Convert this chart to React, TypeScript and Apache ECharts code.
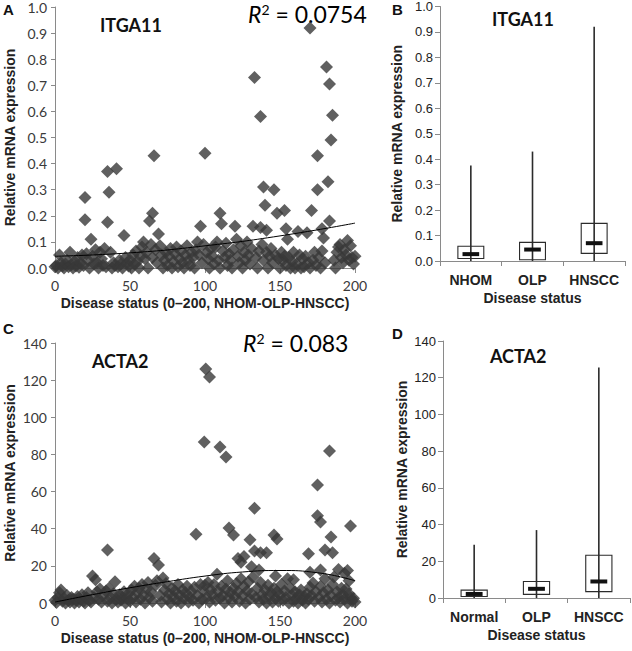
import React, { useEffect, useRef } from "react";
import * as echarts from "echarts";

// ---------- Panel A: ITGA11 vs disease status ----------
const scatterITGA11: [number, number][] = [
  [170, 0.92], [133, 0.73], [137, 0.58], [181, 0.77], [183, 0.705], [185, 0.585], [184, 0.49], [175, 0.43],
  [66, 0.43], [100, 0.44], [35, 0.37], [41, 0.38], [36, 0.29], [20, 0.27], [182, 0.33], [175, 0.3],
  [139, 0.31], [146, 0.3], [140, 0.24], [171, 0.22], [148, 0.21], [153, 0.22], [65, 0.21], [63, 0.18],
  [20, 0.185], [35, 0.175], [110, 0.21], [111, 0.17], [97, 0.16], [120, 0.16], [183, 0.18], [69, 0.13],
  [46, 0.125], [24, 0.11], [132, 0.16], [137, 0.155], [141, 0.145], [162, 0.14], [168, 0.135], [178, 0.15],
  [154, 0.15], [179, 0.115], [155, 0.11], [195, 0.105], [190, 0.09],
  [0, 0.005], [1, 0.01], [2, 0.0], [3, 0.05], [4, 0.02], [5, 0.008], [6, 0.0], [7, 0.015], [8, 0.03], [9, 0.005],
  [10, 0.06], [11, 0.012], [12, 0.0], [13, 0.025], [14, 0.008], [15, 0.04], [16, 0.003], [17, 0.018], [18, 0.05],
  [19, 0.01], [21, 0.055], [22, 0.03], [23, 0.0], [25, 0.045], [26, 0.015], [27, 0.07], [28, 0.02], [29, 0.0],
  [30, 0.06], [31, 0.035], [32, 0.01], [33, 0.075], [34, 0.005], [37, 0.06], [38, 0.0], [39, 0.02], [40, 0.01],
  [42, 0.005], [43, 0.03], [44, 0.015], [45, 0.0], [47, 0.04], [48, 0.02], [49, 0.008],
  [50, 0.03], [51, 0.0], [52, 0.05], [53, 0.015], [54, 0.065], [55, 0.025], [56, 0.0], [57, 0.045], [58, 0.08],
  [59, 0.1], [60, 0.035], [61, 0.06], [62, 0.0], [64, 0.09], [65, 0.04], [67, 0.07], [68, 0.02], [70, 0.085],
  [71, 0.05], [72, 0.0], [73, 0.03], [74, 0.06], [75, 0.01], [76, 0.045], [77, 0.075], [78, 0.0], [79, 0.025],
  [80, 0.055], [81, 0.08], [82, 0.005], [83, 0.035], [84, 0.065], [85, 0.02], [86, 0.0], [87, 0.05], [88, 0.085],
  [89, 0.03], [90, 0.01], [91, 0.06], [92, 0.04], [93, 0.0], [94, 0.07], [95, 0.1], [96, 0.05], [98, 0.02], [99, 0.09],
  [101, 0.06], [102, 0.035], [103, 0.0], [104, 0.075], [105, 0.045], [106, 0.015], [107, 0.08], [108, 0.1],
  [109, 0.03], [110, 0.0], [112, 0.065], [113, 0.04], [114, 0.095], [115, 0.01], [116, 0.055], [117, 0.03],
  [118, 0.0], [119, 0.07], [121, 0.11], [122, 0.045], [123, 0.02], [124, 0.085], [125, 0.0], [126, 0.06],
  [127, 0.03], [128, 0.1], [129, 0.05], [130, 0.015], [131, 0.075], [134, 0.04], [135, 0.0], [136, 0.065],
  [138, 0.09], [139, 0.03], [141, 0.06], [142, 0.0], [143, 0.045], [144, 0.075], [145, 0.02], [147, 0.05],
  [149, 0.035], [150, 0.0],
  [151, 0.06], [152, 0.03], [153, 0.045], [154, 0.01], [156, 0.04], [157, 0.0], [158, 0.025], [159, 0.06],
  [160, 0.0], [161, 0.015], [163, 0.05], [164, 0.0], [165, 0.035], [166, 0.005], [167, 0.045], [169, 0.02],
  [170, 0.0], [172, 0.03], [173, 0.06], [174, 0.01], [176, 0.04], [177, 0.0], [178, 0.065], [180, 0.02],
  [186, 0.03], [187, 0.0], [188, 0.06], [189, 0.08], [191, 0.04], [192, 0.02], [193, 0.07], [194, 0.05],
  [196, 0.03], [197, 0.085], [198, 0.04], [199, 0.015], [200, 0.045],
];
const trendITGA11: [number, number][] = [[0, 0.045], [50, 0.058], [100, 0.085], [150, 0.123], [200, 0.172]];
const r2ITGA11 = "0.0754";

// ---------- Panel B: ITGA11 by group ----------
const groupsITGA11 = ["NHOM", "OLP", "HNSCC"];
const minITGA11 = [0, 0, 0];
const q1ITGA11 = [0.01, 0.005, 0.03];
const medianITGA11 = [0.027, 0.045, 0.07];
const q3ITGA11 = [0.058, 0.073, 0.148];
const maxITGA11 = [0.375, 0.43, 0.92];

// ---------- Panel C: ACTA2 vs disease status ----------
const scatterACTA2: [number, number][] = [
  [100.5, 126], [103, 121.7], [99.5, 86.7], [110, 84], [114, 78.6], [183, 81.8], [175, 63.5], [133, 51],
  [175, 47], [177, 43.6], [197, 41.5], [94, 37], [116, 40.4], [119, 36.6], [146, 36.6], [148, 34.4],
  [130, 34], [184, 35.5], [35, 28.5], [133, 28], [137, 27], [141, 27], [180, 28.5], [185, 27], [169, 26.5],
  [66, 24], [69, 20.5], [122, 24], [124, 22], [195, 17.5], [25, 14.5], [27, 12.5], [40, 11.5], [131, 19.5],
  [136, 17.8], [72, 13.5], [108, 15.5], [147, 14.5], [159, 12.5], [172, 10.8], [177, 17.8], [180, 13],
  [186, 14], [193, 16], [196, 12], [189, 18], [170, 16.5], [155, 13], [126, 25],
  [0, 1.5], [1, 0.3], [2, 3], [3, 5.5], [4, 7], [5, 1], [6, 2.5], [7, 0], [8, 4], [9, 1.5], [10, 0.5], [11, 3],
  [12, 2], [13, 0], [14, 1.5], [15, 3.5], [16, 0.5], [17, 2], [18, 4.5], [19, 1], [20, 0], [21, 3], [22, 5.5],
  [23, 1.5], [24, 0.5], [26, 3], [28, 6], [29, 2], [30, 7.5], [31, 0.5], [32, 4], [34, 6.5], [35, 1], [36, 8],
  [37, 3], [38, 0], [39, 5], [41, 2], [42, 0.5], [43, 4.5], [44, 1.5], [45, 3], [46, 6], [47, 0], [48, 2.5],
  [49, 5], [50, 1],
  [51, 7], [52, 3], [53, 9], [54, 0.5], [55, 5.5], [56, 8], [57, 2], [58, 10], [59, 4], [60, 0], [61, 7.5],
  [62, 11], [63, 3], [64, 6], [65, 1], [67, 9.5], [68, 12], [70, 4], [71, 0.5], [73, 7], [74, 10.5], [75, 2],
  [76, 5], [77, 0], [78, 8], [79, 3.5], [80, 6.5], [81, 1], [82, 10], [83, 4], [84, 0], [85, 7], [86, 2.5],
  [87, 5.5], [88, 9], [89, 0.5], [90, 3], [91, 6], [92, 1.5], [93, 8.5], [95, 4], [96, 0], [97, 10], [98, 2],
  [99, 6.5], [100, 9.5],
  [101, 3], [102, 11], [103, 0.5], [104, 7], [105, 4.5], [106, 10], [107, 1.5], [109, 6], [110, 2.5], [111, 9],
  [112, 4], [113, 0], [114, 7.5], [115, 12], [116, 3], [117, 5.5], [118, 0.5], [119, 8], [120, 3.5], [121, 10.5],
  [122, 6], [123, 1], [124, 13], [125, 4], [126, 9], [127, 0], [128, 6.5], [129, 11.5], [130, 2], [131, 5],
  [132, 14], [134, 3], [135, 8], [136, 0.5], [137, 11], [138, 4.5], [139, 2], [140, 7], [141, 0], [142, 9.5],
  [143, 3.5], [144, 5.5], [145, 0.5], [146, 8], [147, 2.5], [148, 6], [149, 1], [150, 4.5],
  [151, 10], [152, 1.5], [153, 6.5], [154, 3], [156, 0], [157, 8], [158, 4], [159, 1], [160, 6], [161, 2.5],
  [162, 0], [163, 4.5], [164, 7], [165, 1.5], [166, 3.5], [167, 0], [168, 5], [169, 2], [170, 8.5], [171, 4],
  [173, 1], [174, 6], [176, 3], [177, 9], [178, 0.5], [179, 5.5], [181, 2], [182, 7], [183, 0], [184, 4],
  [185, 10], [187, 1.5], [188, 6], [189, 3], [190, 0.5], [191, 8], [192, 4.5], [193, 2], [194, 7.5], [195, 0],
  [196, 5], [197, 3], [198, 1], [199, 2.5], [200, 0.5],
];
const trendACTA2: [number, number][] = [
  [0, 0.5], [25, 4.5], [50, 8.2], [75, 11.5], [100, 14.5], [125, 16.7], [150, 17.5], [175, 16.3], [200, 12],
];
const r2ACTA2 = "0.083";

// ---------- Panel D: ACTA2 by group ----------
const groupsACTA2 = ["Normal", "OLP", "HNSCC"];
const minACTA2 = [0, 0, 0];
const q1ACTA2 = [0.8, 2, 3.5];
const medianACTA2 = [2.2, 5, 9];
const q3ACTA2 = [4.3, 9, 23.3];
const maxACTA2 = [29, 37, 125.5];

const ARIAL = "Liberation Sans, Arial, sans-serif";
const CAL = "Lato, Carlito, Calibri, sans-serif";
const AXIS_GRAY = "#8a8a8a";
const DARK = "#383838";

function boxData(mins: number[], q1: number[], med: number[], q3: number[], max: number[]) {
  return mins.map((m, i) => [i, m, q1[i], med[i], q3[i], max[i]]);
}

const renderBox = (_params: any, api: any) => {
  const i = api.value(0);
  const pMin = api.coord([i, api.value(1)]);
  const pQ1 = api.coord([i, api.value(2)]);
  const pMed = api.coord([i, api.value(3)]);
  const pQ3 = api.coord([i, api.value(4)]);
  const pMax = api.coord([i, api.value(5)]);
  const bw = api.size([1, 0])[0];
  const w = bw * 0.42;
  const mw = bw * 0.27;
  return {
    type: "group",
    children: [
      {
        type: "line",
        shape: { x1: pMin[0], y1: pMin[1], x2: pMax[0], y2: pMax[1] },
        style: { stroke: "#2b2b2b", lineWidth: 1.6 },
      },
      {
        type: "rect",
        shape: { x: pQ3[0] - w / 2, y: pQ3[1], width: w, height: pQ1[1] - pQ3[1] },
        style: { fill: "none", stroke: "#2b2b2b", lineWidth: 1.1 },
      },
      {
        type: "rect",
        shape: { x: pMed[0] - mw / 2, y: pMed[1] - 2, width: mw, height: 4 },
        style: { fill: "#111" },
      },
    ],
  };
};

function scatterXAxis(gridIndex: number) {
  return {
    type: "value",
    gridIndex,
    min: 0,
    max: 200,
    interval: 50,
    axisLine: { show: true, lineStyle: { color: AXIS_GRAY, width: 1 } },
    axisTick: { show: true, length: 5, lineStyle: { color: AXIS_GRAY } },
    splitLine: { show: false },
    axisLabel: { fontFamily: CAL, fontSize: 14, color: "#3a3a3a", margin: 10 },
    name: "Disease status (0\u2013200, NHOM-OLP-HNSCC)",
    nameLocation: "middle",
    nameGap: 28,
    nameTextStyle: { fontFamily: ARIAL, fontWeight: "bold", fontSize: 14, color: "#222" },
  };
}

function scatterYAxis(gridIndex: number, max: number, interval: number, digits: number) {
  return {
    type: "value",
    gridIndex,
    min: 0,
    max,
    interval,
    axisLine: { show: true, lineStyle: { color: AXIS_GRAY, width: 1 } },
    axisTick: { show: true, length: 4, lineStyle: { color: AXIS_GRAY } },
    splitLine: { show: false },
    axisLabel: {
      fontFamily: CAL,
      fontSize: 14,
      color: "#3a3a3a",
      margin: 8,
      formatter: (v: number) => v.toFixed(digits),
    },
    name: "Relative mRNA expression",
    nameLocation: "middle",
    nameRotate: 90,
    nameGap: 38,
    nameTextStyle: { fontFamily: ARIAL, fontWeight: "bold", fontSize: 14, color: "#222" },
  };
}

function boxXAxis(gridIndex: number, cats: string[]) {
  return {
    type: "category",
    gridIndex,
    data: cats,
    boundaryGap: true,
    axisLine: { show: true, lineStyle: { color: AXIS_GRAY, width: 1 } },
    axisTick: { show: true, length: 5, interval: 0, lineStyle: { color: AXIS_GRAY } },
    axisLabel: { interval: 0, fontFamily: ARIAL, fontWeight: "bold", fontSize: 14, color: "#222", margin: 12 },
    name: "Disease status",
    nameLocation: "middle",
    nameGap: 30,
    nameTextStyle: { fontFamily: ARIAL, fontWeight: "bold", fontSize: 14, color: "#222" },
  };
}

function boxYAxis(gridIndex: number, max: number, interval: number, digits: number, gap: number) {
  return {
    type: "value",
    gridIndex,
    min: 0,
    max,
    interval,
    axisLine: { show: true, lineStyle: { color: AXIS_GRAY, width: 1 } },
    axisTick: { show: true, length: 5, lineStyle: { color: AXIS_GRAY } },
    splitLine: { show: false },
    axisLabel: {
      fontFamily: ARIAL,
      fontSize: 13,
      color: "#222",
      margin: 7,
      formatter: (v: number) => v.toFixed(digits),
    },
    name: "Relative mRNA expression",
    nameLocation: "middle",
    nameRotate: 90,
    nameGap: gap,
    nameTextStyle: { fontFamily: ARIAL, fontWeight: "bold", fontSize: 14, color: "#222" },
  };
}

function r2Text(left: number, top: number, value: string) {
  return {
    type: "text",
    left,
    top,
    style: {
      text: `{i|R}{s|2}{n| = ${value}}`,
      rich: {
        i: { fontFamily: CAL, fontStyle: "italic", fontSize: 23, color: "#111" },
        s: { fontFamily: CAL, fontSize: 14, color: "#111", verticalAlign: "top", padding: [0, 0, 10, 0] },
        n: { fontFamily: CAL, fontSize: 23, color: "#111" },
      },
    },
  };
}

function label(left: number, top: number, text: string, size: number, font: string) {
  return {
    type: "text",
    left,
    top,
    style: { text, fontFamily: font, fontWeight: "bold", fontSize: size, fill: "#111" },
  };
}

export default function App() {
  const ref = useRef<HTMLDivElement>(null);

  useEffect(() => {
    if (!ref.current) return;
    const chart = echarts.init(ref.current, undefined, { renderer: "svg" });
    const option: any = {
      animation: false,
      backgroundColor: "#ffffff",
      grid: [
        { left: 55, top: 6, width: 300, height: 262 },
        { left: 440, top: 5, width: 185, height: 256 },
        { left: 55, top: 343, width: 300, height: 260 },
        { left: 443, top: 341, width: 187, height: 257 },
      ],
      xAxis: [
        scatterXAxis(0),
        boxXAxis(1, groupsITGA11),
        scatterXAxis(2),
        boxXAxis(3, groupsACTA2),
      ],
      yAxis: [
        scatterYAxis(0, 1, 0.1, 1),
        boxYAxis(1, 1, 0.1, 1, 36),
        scatterYAxis(2, 140, 20, 0),
        boxYAxis(3, 140, 20, 0, 34),
      ],
      series: [
        {
          type: "scatter",
          xAxisIndex: 0,
          yAxisIndex: 0,
          data: scatterITGA11,
          symbol: "diamond",
          symbolSize: 13,
          itemStyle: { color: DARK },
          z: 2,
        },
        {
          type: "line",
          xAxisIndex: 0,
          yAxisIndex: 0,
          data: trendITGA11,
          smooth: true,
          showSymbol: false,
          symbol: "none",
          lineStyle: { color: "#000", width: 1 },
          z: 3,
        },
        {
          type: "custom",
          xAxisIndex: 1,
          yAxisIndex: 1,
          data: boxData(minITGA11, q1ITGA11, medianITGA11, q3ITGA11, maxITGA11),
          renderItem: renderBox,
          encode: { x: 0, y: [1, 2, 3, 4, 5] },
        },
        {
          type: "scatter",
          xAxisIndex: 2,
          yAxisIndex: 2,
          data: scatterACTA2,
          symbol: "diamond",
          symbolSize: 13,
          itemStyle: { color: DARK },
          z: 2,
        },
        {
          type: "line",
          xAxisIndex: 2,
          yAxisIndex: 2,
          data: trendACTA2,
          smooth: true,
          showSymbol: false,
          symbol: "none",
          lineStyle: { color: "#000", width: 1 },
          z: 3,
        },
        {
          type: "custom",
          xAxisIndex: 3,
          yAxisIndex: 3,
          data: boxData(minACTA2, q1ACTA2, medianACTA2, q3ACTA2, maxACTA2),
          renderItem: renderBox,
          encode: { x: 0, y: [1, 2, 3, 4, 5] },
        },
      ],
      graphic: [
        label(3, 2, "A", 15, ARIAL),
        label(392, 2, "B", 15, ARIAL),
        label(3, 321, "C", 15, ARIAL),
        label(392, 326, "D", 15, ARIAL),
        label(100, 16, "ITGA11", 18, CAL),
        label(492, 10, "ITGA11", 18, CAL),
        label(92, 352, "ACTA2", 18, CAL),
        label(490, 347, "ACTA2", 18, CAL),
        r2Text(248, 2, r2ITGA11),
        r2Text(243, 331, r2ACTA2),
      ],
    };
    chart.setOption(option);
    return () => chart.dispose();
  }, []);

  return (
    <div
      ref={ref}
      style={{ position: "fixed", left: 0, top: 0, width: 632, height: 651, background: "#fff" }}
    />
  );
}
